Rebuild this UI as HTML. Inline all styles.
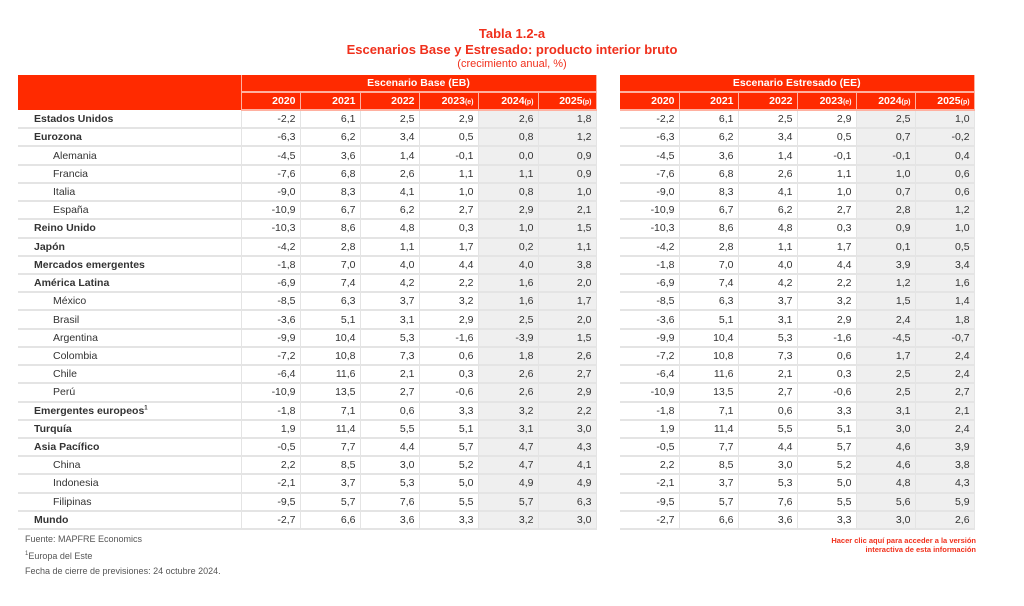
<!DOCTYPE html>
<html><head><meta charset="utf-8">
<style>
*{margin:0;padding:0;box-sizing:border-box}
body{width:1024px;height:606px;background:#fff;position:relative;font-family:"Liberation Sans Narrow","Liberation Sans",sans-serif;color:#333;overflow:hidden}
.t{position:absolute;left:0;width:1024px;text-align:center;color:#f0301c}
table{position:absolute;border-collapse:collapse;table-layout:fixed;font-size:10.5px}
td{height:18.22px;border-bottom:2px solid #e4e4e4;border-right:1px solid #e4e4e4;text-align:right;padding-right:4px;white-space:nowrap;overflow:hidden}
td.l{text-align:left;padding-left:16px;font-weight:bold;border-right:1px solid #e4e4e4}
td.i{text-align:left;padding-left:35px;border-right:1px solid #e4e4e4}
td.g{background:#efefef}
tr.h td{background:#ff2a00;color:#fff;font-weight:bold;border-bottom:2px solid #ffb0a0;border-right:1px solid #ffb0a0;height:17px;font-size:10.5px}
tr.h2 td{height:18px}
td.c{text-align:center!important;padding:0}
small{font-size:7px}
.f{position:absolute;left:25px;font-size:9px;color:#555}
.r{position:absolute;right:48px;font-size:7.5px;color:#f0301c;font-weight:bold;text-align:right;line-height:9px}
</style></head><body>
<div class="t" style="top:26px;font-size:13px;font-weight:bold">Tabla 1.2-a</div>
<div class="t" style="top:42px;font-size:13px;font-weight:bold">Escenarios Base y Estresado: producto interior bruto</div>
<div class="t" style="top:58px;font-size:11px">(crecimiento anual, %)</div>

<table style="left:18px;top:75px;width:578px">
<colgroup><col style="width:223px"><col style="width:59px"><col style="width:60px"><col style="width:59px"><col style="width:59px"><col style="width:60px"><col style="width:58px"></colgroup>
<tr class="h"><td style="border-right:1px solid #ffb0a0;border-bottom:none"></td><td class="c" colspan="6">Escenario Base (EB)</td></tr>
<tr class="h h2"><td style="border-bottom:none"></td><td>2020</td><td>2021</td><td>2022</td><td>2023<small>(e)</small></td><td>2024<small>(p)</small></td><td>2025<small>(p)</small></td></tr>
<tr><td class="l">Estados Unidos</td><td>-2,2</td><td>6,1</td><td>2,5</td><td>2,9</td><td class="g">2,6</td><td class="g">1,8</td></tr>
<tr><td class="l">Eurozona</td><td>-6,3</td><td>6,2</td><td>3,4</td><td>0,5</td><td class="g">0,8</td><td class="g">1,2</td></tr>
<tr><td class="i">Alemania</td><td>-4,5</td><td>3,6</td><td>1,4</td><td>-0,1</td><td class="g">0,0</td><td class="g">0,9</td></tr>
<tr><td class="i">Francia</td><td>-7,6</td><td>6,8</td><td>2,6</td><td>1,1</td><td class="g">1,1</td><td class="g">0,9</td></tr>
<tr><td class="i">Italia</td><td>-9,0</td><td>8,3</td><td>4,1</td><td>1,0</td><td class="g">0,8</td><td class="g">1,0</td></tr>
<tr><td class="i">España</td><td>-10,9</td><td>6,7</td><td>6,2</td><td>2,7</td><td class="g">2,9</td><td class="g">2,1</td></tr>
<tr><td class="l">Reino Unido</td><td>-10,3</td><td>8,6</td><td>4,8</td><td>0,3</td><td class="g">1,0</td><td class="g">1,5</td></tr>
<tr><td class="l">Japón</td><td>-4,2</td><td>2,8</td><td>1,1</td><td>1,7</td><td class="g">0,2</td><td class="g">1,1</td></tr>
<tr><td class="l">Mercados emergentes</td><td>-1,8</td><td>7,0</td><td>4,0</td><td>4,4</td><td class="g">4,0</td><td class="g">3,8</td></tr>
<tr><td class="l">América Latina</td><td>-6,9</td><td>7,4</td><td>4,2</td><td>2,2</td><td class="g">1,6</td><td class="g">2,0</td></tr>
<tr><td class="i">México</td><td>-8,5</td><td>6,3</td><td>3,7</td><td>3,2</td><td class="g">1,6</td><td class="g">1,7</td></tr>
<tr><td class="i">Brasil</td><td>-3,6</td><td>5,1</td><td>3,1</td><td>2,9</td><td class="g">2,5</td><td class="g">2,0</td></tr>
<tr><td class="i">Argentina</td><td>-9,9</td><td>10,4</td><td>5,3</td><td>-1,6</td><td class="g">-3,9</td><td class="g">1,5</td></tr>
<tr><td class="i">Colombia</td><td>-7,2</td><td>10,8</td><td>7,3</td><td>0,6</td><td class="g">1,8</td><td class="g">2,6</td></tr>
<tr><td class="i">Chile</td><td>-6,4</td><td>11,6</td><td>2,1</td><td>0,3</td><td class="g">2,6</td><td class="g">2,7</td></tr>
<tr><td class="i">Perú</td><td>-10,9</td><td>13,5</td><td>2,7</td><td>-0,6</td><td class="g">2,6</td><td class="g">2,9</td></tr>
<tr><td class="l">Emergentes europeos<sup style="font-size:6px">1</sup></td><td>-1,8</td><td>7,1</td><td>0,6</td><td>3,3</td><td class="g">3,2</td><td class="g">2,2</td></tr>
<tr><td class="l">Turquía</td><td>1,9</td><td>11,4</td><td>5,5</td><td>5,1</td><td class="g">3,1</td><td class="g">3,0</td></tr>
<tr><td class="l">Asia Pacífico</td><td>-0,5</td><td>7,7</td><td>4,4</td><td>5,7</td><td class="g">4,7</td><td class="g">4,3</td></tr>
<tr><td class="i">China</td><td>2,2</td><td>8,5</td><td>3,0</td><td>5,2</td><td class="g">4,7</td><td class="g">4,1</td></tr>
<tr><td class="i">Indonesia</td><td>-2,1</td><td>3,7</td><td>5,3</td><td>5,0</td><td class="g">4,9</td><td class="g">4,9</td></tr>
<tr><td class="i">Filipinas</td><td>-9,5</td><td>5,7</td><td>7,6</td><td>5,5</td><td class="g">5,7</td><td class="g">6,3</td></tr>
<tr><td class="l">Mundo</td><td>-2,7</td><td>6,6</td><td>3,6</td><td>3,3</td><td class="g">3,2</td><td class="g">3,0</td></tr>
</table>

<table style="left:620px;top:75px;width:354px">
<colgroup><col style="width:59px"><col style="width:59px"><col style="width:59px"><col style="width:59px"><col style="width:59px"><col style="width:59px"></colgroup>
<tr class="h"><td class="c" colspan="6">Escenario Estresado (EE)</td></tr>
<tr class="h h2"><td>2020</td><td>2021</td><td>2022</td><td>2023<small>(e)</small></td><td>2024<small>(p)</small></td><td>2025<small>(p)</small></td></tr>
<tr><td>-2,2</td><td>6,1</td><td>2,5</td><td>2,9</td><td class="g">2,5</td><td class="g">1,0</td></tr>
<tr><td>-6,3</td><td>6,2</td><td>3,4</td><td>0,5</td><td class="g">0,7</td><td class="g">-0,2</td></tr>
<tr><td>-4,5</td><td>3,6</td><td>1,4</td><td>-0,1</td><td class="g">-0,1</td><td class="g">0,4</td></tr>
<tr><td>-7,6</td><td>6,8</td><td>2,6</td><td>1,1</td><td class="g">1,0</td><td class="g">0,6</td></tr>
<tr><td>-9,0</td><td>8,3</td><td>4,1</td><td>1,0</td><td class="g">0,7</td><td class="g">0,6</td></tr>
<tr><td>-10,9</td><td>6,7</td><td>6,2</td><td>2,7</td><td class="g">2,8</td><td class="g">1,2</td></tr>
<tr><td>-10,3</td><td>8,6</td><td>4,8</td><td>0,3</td><td class="g">0,9</td><td class="g">1,0</td></tr>
<tr><td>-4,2</td><td>2,8</td><td>1,1</td><td>1,7</td><td class="g">0,1</td><td class="g">0,5</td></tr>
<tr><td>-1,8</td><td>7,0</td><td>4,0</td><td>4,4</td><td class="g">3,9</td><td class="g">3,4</td></tr>
<tr><td>-6,9</td><td>7,4</td><td>4,2</td><td>2,2</td><td class="g">1,2</td><td class="g">1,6</td></tr>
<tr><td>-8,5</td><td>6,3</td><td>3,7</td><td>3,2</td><td class="g">1,5</td><td class="g">1,4</td></tr>
<tr><td>-3,6</td><td>5,1</td><td>3,1</td><td>2,9</td><td class="g">2,4</td><td class="g">1,8</td></tr>
<tr><td>-9,9</td><td>10,4</td><td>5,3</td><td>-1,6</td><td class="g">-4,5</td><td class="g">-0,7</td></tr>
<tr><td>-7,2</td><td>10,8</td><td>7,3</td><td>0,6</td><td class="g">1,7</td><td class="g">2,4</td></tr>
<tr><td>-6,4</td><td>11,6</td><td>2,1</td><td>0,3</td><td class="g">2,5</td><td class="g">2,4</td></tr>
<tr><td>-10,9</td><td>13,5</td><td>2,7</td><td>-0,6</td><td class="g">2,5</td><td class="g">2,7</td></tr>
<tr><td>-1,8</td><td>7,1</td><td>0,6</td><td>3,3</td><td class="g">3,1</td><td class="g">2,1</td></tr>
<tr><td>1,9</td><td>11,4</td><td>5,5</td><td>5,1</td><td class="g">3,0</td><td class="g">2,4</td></tr>
<tr><td>-0,5</td><td>7,7</td><td>4,4</td><td>5,7</td><td class="g">4,6</td><td class="g">3,9</td></tr>
<tr><td>2,2</td><td>8,5</td><td>3,0</td><td>5,2</td><td class="g">4,6</td><td class="g">3,8</td></tr>
<tr><td>-2,1</td><td>3,7</td><td>5,3</td><td>5,0</td><td class="g">4,8</td><td class="g">4,3</td></tr>
<tr><td>-9,5</td><td>5,7</td><td>7,6</td><td>5,5</td><td class="g">5,6</td><td class="g">5,9</td></tr>
<tr><td>-2,7</td><td>6,6</td><td>3,6</td><td>3,3</td><td class="g">3,0</td><td class="g">2,6</td></tr>
</table>

<div class="f" style="top:534px">Fuente: MAPFRE Economics</div>
<div class="f" style="top:551px"><sup style="font-size:6px">1</sup>Europa del Este</div>
<div class="f" style="top:566px">Fecha de cierre de previsiones: 24 octubre 2024.</div>
<div class="r" style="top:536px">Hacer clic aquí para acceder a la versión<br>interactiva de esta información</div>
</body></html>
